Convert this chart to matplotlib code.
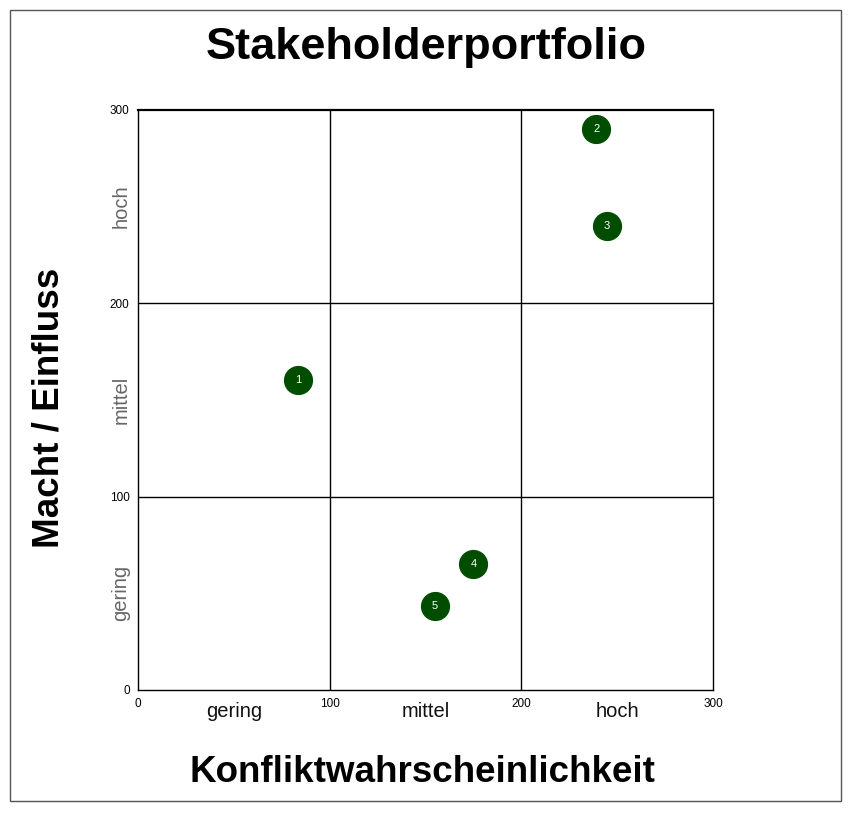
import matplotlib
matplotlib.use("Agg")
import matplotlib.pyplot as plt
from matplotlib.patches import Rectangle

plt.rcParams['font.family'] = ['Liberation Sans', 'DejaVu Sans']

# Data
labels = ["1", "2", "3", "4", "5"]
x_conflict = [83.5, 239, 244.5, 175, 155]
y_power = [160.5, 290, 240, 65, 43.5]
tick_vals = [0, 100, 200, 300]
cat_labels = ["gering", "mittel", "hoch"]
cat_centers = [50, 150, 250]

fig = plt.figure(figsize=(8.53, 8.13), dpi=100)
ax = fig.add_axes([0.1618, 0.1513, 0.6741, 0.7134])
ax.set_xlim(0, 300)
ax.set_ylim(0, 300)

for v in [100, 200]:
    ax.axvline(v, color='black', lw=1.0, zorder=1)
    ax.axhline(v, color='black', lw=1.0, zorder=1)
for s in ax.spines.values():
    s.set_color('black')
    s.set_linewidth(1.0)
ax.spines['top'].set_linewidth(1.6)

ax.set_xticks(tick_vals)
ax.set_yticks(tick_vals)
ax.set_xticklabels([str(t) for t in tick_vals], fontsize=8.5)
ax.set_yticklabels([str(t) for t in tick_vals], fontsize=8.5)
ax.tick_params(length=0, pad=6)

ax.plot(x_conflict, y_power, 'o', ms=20, color='#004d00', mec='#004d00', zorder=3, ls='none')
for lab, xv, yv in zip(labels, x_conflict, y_power):
    ax.text(xv, yv, lab, color='white', fontsize=8, ha='center', va='center', zorder=4)

for c, lab in zip(cat_centers, cat_labels):
    ax.text(c, -11, lab, fontsize=14.5, ha='center', va='center', transform=ax.transData, color='#111111')
    ax.text(-9, c, lab, fontsize=14.5, ha='center', va='center', rotation=90, color='#666666',
            transform=ax.transData)

fig.text(0.5, 0.941, "Stakeholderportfolio", fontsize=32.5, fontweight='bold', ha='center', va='center')
fig.text(0.495, 0.050, "Konfliktwahrscheinlichkeit", fontsize=26.5, fontweight='bold', ha='center', va='center')
fig.text(0.058, 0.498, "Macht / Einfluss", fontsize=26.5, fontweight='bold', ha='center', va='center', rotation=90)

fig.patches.append(Rectangle((10/853, 1-801/813), 831/853, 791/813, transform=fig.transFigure,
                             fill=False, edgecolor='#555555', lw=1.0))

fig.savefig("out.png", dpi=100)
